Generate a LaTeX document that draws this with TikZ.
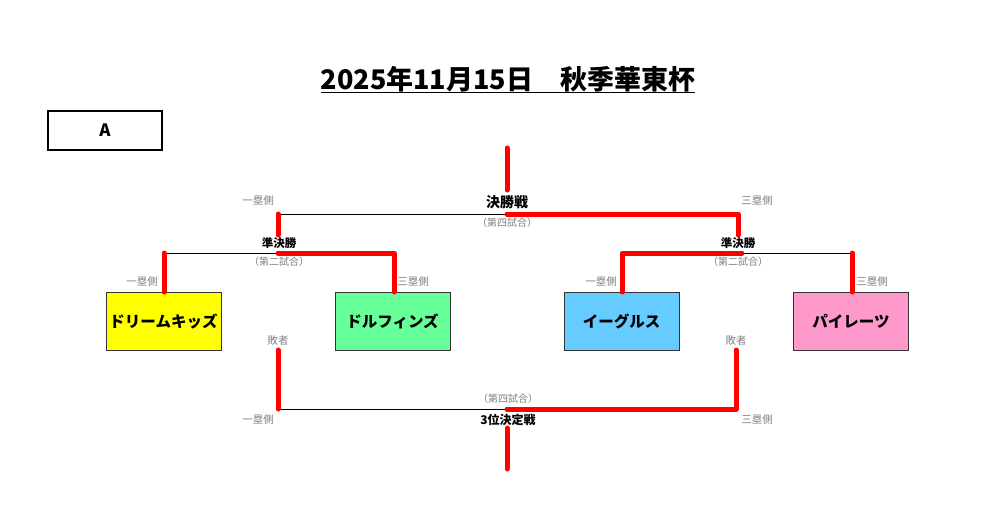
\documentclass[tikz,border=0pt]{standalone}
\usepackage{fontspec}
\setmainfont{Noto Sans CJK JP}
\definecolor{tyellow}{HTML}{FFFF00}
\definecolor{tgreen}{HTML}{66FF99}
\definecolor{tblue}{HTML}{66CCFF}
\definecolor{tpink}{HTML}{FF99CC}
\definecolor{lblgray}{HTML}{808080}
\definecolor{wred}{HTML}{FF0000}
\begin{document}
\begin{tikzpicture}[x=1pt,y=-1pt,
  winline/.style={wred, line width=5pt, line cap=round, line join=round},
  plainline/.style={black, line width=1pt},
  team/.style={draw=black!80, line width=1pt, minimum width=115pt, minimum height=58pt, inner sep=0pt,
    font=\fontsize{15.5}{16}\selectfont\bfseries},
  side/.style={text=lblgray, inner sep=0pt, font=\fontsize{10.5}{11}\selectfont},
  gamelbl/.style={text=black, inner sep=0pt, font=\fontsize{11.5}{12}\selectfont\bfseries},
  gamenum/.style={text=lblgray, inner sep=0pt, font=\fontsize{10}{11}\selectfont},
  ]
\useasboundingbox[fill=white] (0,0) rectangle (1001,517);

% title
\node[inner sep=0pt, font=\fontsize{27}{28}\selectfont\bfseries, anchor=base] (title) at (508,89) {2025年11月15日　秋季華東杯};
\draw[line width=1.5pt] (title.base west) ++(0,3.5) coordinate (ul1) -- (title.base east |- ul1) coordinate (ul2);

% block label
\node[draw=black, line width=2pt, minimum width=114pt, minimum height=39pt, inner sep=0pt,
  font=\fontsize{17}{18}\selectfont\bfseries] (blk) at (105,130.5) {A};

% teams
\node[team, fill=tyellow] (t1) at (163.5,321.5) {ドリームキッズ};
\node[team, fill=tgreen]  (t2) at (392.5,321.5) {ドルフィンズ};
\node[team, fill=tblue]   (t3) at (621.5,321.5) {イーグルス};
\node[team, fill=tpink]   (t4) at (851,321.5) {パイレーツ};

% bracket coordinates
\coordinate (ftop) at (507,148);
\coordinate (fbot) at (507,190);
\coordinate (fl) at (278,214);
\coordinate (fc) at (507,214);
\coordinate (fr) at (738,214);
\coordinate (fld) at (278,235);
\coordinate (frd) at (738,235);

\coordinate (sl1) at (164,253);
\coordinate (slc) at (278,253);
\coordinate (sl2) at (394,253);
\coordinate (sr1) at (622,253);
\coordinate (src) at (742,253);
\coordinate (sr2) at (852,253);

\coordinate (tlu) at (278,350);
\coordinate (tl) at (278,409);
\coordinate (tc) at (507,409);
\coordinate (tr) at (736,409);
\coordinate (tru) at (736,350);
\coordinate (tb1) at (507,428);
\coordinate (tb2) at (507,469);

% thin lines
\draw[plainline] (fl) -- (fc);
\draw[plainline] (sl1) -- (slc);
\draw[plainline] (src) -- (sr2);
\draw[plainline] (tl) -- (tc);

% winner lines
\draw[winline] (ftop) -- (fbot);
\draw[winline] (fc) -- (fr) -- (frd);
\draw[winline] (fl) -- (fld);
\draw[winline] (sl1) -- (sl1 |- t1.north);
\draw[winline] (slc) -- (sl2) -- (sl2 |- t2.north);
\draw[winline] (src) -- (sr1) -- (sr1 |- t3.north);
\draw[winline] (sr2) -- (sr2 |- t4.north);
\draw[winline] (tlu) -- (tl);
\draw[winline] (tc) -- (tr) -- (tru);
\draw[winline] (tb1) -- (tb2);

% final labels
\node[gamelbl, font=\fontsize{14}{15}\selectfont\bfseries] (finl) at (507,202) {決勝戦};
\node[gamenum] (finn) at (507,223) {（第四試合）};
\node[side] (fs1) at (258,201) {一塁側};
\node[side] (fs3) at (757,201) {三塁側};

% semifinal labels
\node[gamelbl] (sfl1) at (279,243) {準決勝};
\node[gamenum] (sfn1) at (279,262) {（第二試合）};
\node[gamelbl] (sfl2) at (738,243) {準決勝};
\node[gamenum] (sfn2) at (738,262) {（第二試合）};
\node[side] (s11) at (142,282) {一塁側};
\node[side] (s13) at (413,282) {三塁側};
\node[side] (s21) at (601,282) {一塁側};
\node[side] (s23) at (872,282) {三塁側};

% third place labels
\node[side] (los1) at (278,341) {敗者};
\node[side] (los2) at (736,341) {敗者};
\node[gamenum] (thn) at (508,399) {（第四試合）};
\node[gamelbl, font=\fontsize{12}{13}\selectfont\bfseries] (thl) at (508,420) {3位決定戦};
\node[side] (ts1) at (258,420) {一塁側};
\node[side] (ts3) at (757,420) {三塁側};
\end{tikzpicture}
\end{document}
